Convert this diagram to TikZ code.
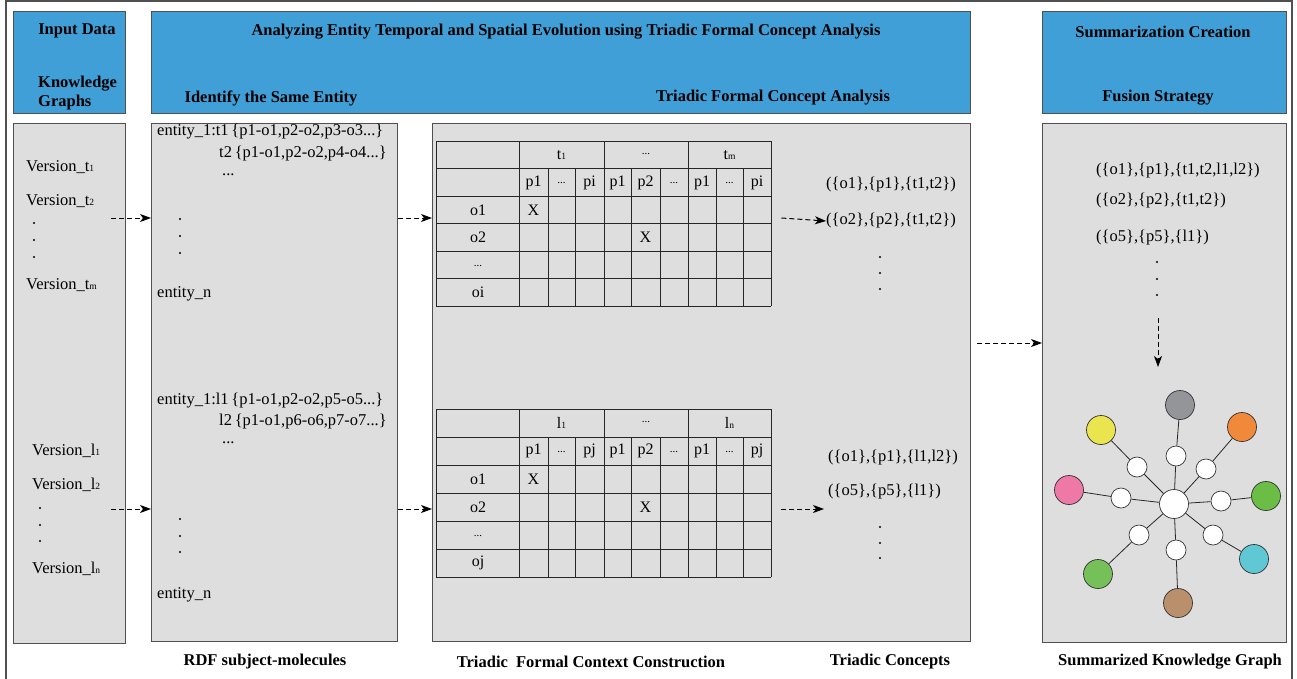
\documentclass[tikz,border=0pt]{standalone}
\usepackage{fontspec}
\setmainfont{Liberation Serif}
\usetikzlibrary{arrows.meta, positioning}

\definecolor{hdrblue}{HTML}{419FD8}
\definecolor{panelgray}{HTML}{DEDEDE}
\definecolor{framegray}{HTML}{505050}
\definecolor{kgray}{HTML}{939598}
\definecolor{korange}{HTML}{F08A3A}
\definecolor{kyellow}{HTML}{EAE54E}
\definecolor{kpink}{HTML}{EE78A6}
\definecolor{kgreen}{HTML}{6CBD45}
\definecolor{kgreenb}{HTML}{76C05A}
\definecolor{kcyan}{HTML}{60C8D5}
\definecolor{kbrown}{HTML}{B98F6C}

\newcommand{\sm}[1]{{\fontsize{9.5}{9.5}\selectfont #1}}

\tikzset{
  header/.style={draw=framegray, fill=hdrblue, line width=1pt, anchor=north west, inner sep=0pt},
  panel/.style={draw=framegray, fill=panelgray, line width=1pt, anchor=north west, inner sep=0pt},
  title/.style={font=\bfseries\fontsize{16.5}{19}\selectfont, inner sep=0pt},
  body/.style={font=\fontsize{16.5}{19}\selectfont, inner sep=0pt, anchor=west},
  cell/.style={font=\fontsize{16}{19}\selectfont, inner sep=0pt},
  small/.style={font=\fontsize{11}{12}\selectfont, inner sep=0pt},
  concept/.style={font=\fontsize{16.5}{19}\selectfont, inner sep=0pt, anchor=west},
  vdot/.style={circle, fill=black, inner sep=0pt, minimum size=2.4pt},
  grid/.style={draw=black!85, line width=0.8pt},
  flow/.style={dash pattern=on 5pt off 3pt, line width=1pt, -{Stealth[length=11pt, width=8pt, inset=3pt]}},
  hub/.style={circle, draw=black!80, fill=white, minimum size=29pt, inner sep=0pt, line width=0.7pt},
  link/.style={circle, draw=black!80, fill=white, minimum size=20pt, inner sep=0pt, line width=0.7pt},
  leaf/.style={circle, draw=black!80, minimum size=29pt, inner sep=0pt, line width=0.7pt},
}

\begin{document}
\begin{tikzpicture}[x=1pt, y=-1pt]
		\useasboundingbox (0,0) rectangle (1297,678);
		\draw[framegray, line width=2pt] (6,680) -- (6,1) -- (1292,1) -- (1292,680);
		
		% headers
		\node[header, minimum width=112pt, minimum height=102pt] (inhdr) at (13,11) {};
		\node[header, minimum width=819pt, minimum height=102pt] (anhdr) at (151,11) {};
		\node[header, minimum width=244pt, minimum height=102pt] (sumhdr) at (1042,11) {};
		\node[title] (intitle) at (77,31) {Input Data};
		\node[title, align=left, anchor=west] (kgtitle) at (38,93) {Knowledge\\Graphs};
		\node[title] (antitle) at (566,32) {Analyzing Entity Temporal and Spatial Evolution using Triadic Formal Concept Analysis};
		\node[title] (idtitle) at (271,98) {Identify the Same Entity};
		\node[title] (tftitle) at (773,98) {Triadic Formal Concept Analysis};
		\node[title] (sumtitle) at (1163,32) {Summarization Creation};
		\node[title] (fustitle) at (1158,98) {Fusion Strategy};
		
		% panels
		\node[panel, minimum width=112pt, minimum height=520pt] (inpanel) at (13,123) {};
		\node[panel, minimum width=246pt, minimum height=518pt] (rdfpanel) at (151,123) {};
		\node[panel, minimum width=538pt, minimum height=518pt] (tcpanel) at (432,123) {};
		\node[panel, minimum width=244pt, minimum height=519pt] (skgpanel) at (1042,123) {};
		
		% input versions
		\node[body] (vt1) at (26,167) {Version\_t\sm{1}};
		\node[body] (vt2) at (26,201) {Version\_t\sm{2}};
		\node[vdot] at (34,223) {};
		\node[vdot] at (34,240) {};
		\node[vdot] at (34,257) {};
		\node[body] (vtm) at (26,285) {Version\_t\sm{m}};
		\node[body] (vl1) at (32,451) {Version\_l\sm{1}};
		\node[body] (vl2) at (32,485) {Version\_l\sm{2}};
		\node[vdot] at (40,508) {};
		\node[vdot] at (40,525) {};
		\node[vdot] at (40,541) {};
		\node[body] (vln) at (32,569) {Version\_l\sm{n}};
		
		% subject molecules
		\node[body] (et1) at (157,132) {entity\_1:t1\,\{p1-o1,p2-o2,p3-o3...\}};
		\node[body] (et2) at (219,154) {t2\,\{p1-o1,p2-o2,p4-o4...\}};
		\node[body] (etx) at (222,175) {...};
		\node[vdot] at (180,219) {};
		\node[vdot] at (180,236) {};
		\node[vdot] at (180,253) {};
		\node[body] (etn) at (157,294) {entity\_n};
		\node[body] (el1) at (157,401) {entity\_1:l1\,\{p1-o1,p2-o2,p5-o5...\}};
		\node[body] (el2) at (219,422) {l2\,\{p1-o1,p6-o6,p7-o7...\}};
		\node[body] (elx) at (222,443) {...};
		\node[vdot] at (180,519) {};
		\node[vdot] at (180,536) {};
		\node[vdot] at (180,552) {};
		\node[body] (eln) at (157,595) {entity\_n};
		
		% triadic context over time
		\node[minimum width=335pt, minimum height=165pt, inner sep=0pt, anchor=north west] (ctxt) at (436,141) {};
		\foreach \r in {0,...,6} \draw[grid] (436,{141+27.5*\r}) -- (771,{141+27.5*\r});
		\foreach \c in {436,519,604,688,771} \draw[grid] (\c,141) -- (\c,306);
		\foreach \c in {548,575,631,660,716,743} \draw[grid] (\c,168.5) -- (\c,306);
		\node[cell] (tg1) at (561.5,155) {t\sm{1}};
		\node[small] (tg2) at (646,154) {...};
		\node[cell] (tg3) at (729.5,155) {t\sm{m}};
		\node[cell] at (533.5,182.5) {p1};
		\node[small] at (561.5,183) {...};
		\node[cell] at (589.5,182.5) {pi};
		\node[cell] at (617.5,182.5) {p1};
		\node[cell] at (645.5,182.5) {p2};
		\node[small] at (674,183) {...};
		\node[cell] at (702,182.5) {p1};
		\node[small] at (729.5,183) {...};
		\node[cell] at (757,182.5) {pi};
		\node[cell] (to1) at (478,210) {o1};
		\node[cell] (to2) at (478,237.5) {o2};
		\node[small] (tox) at (478,265.5) {...};
		\node[cell] (toi) at (478,292.5) {oi};
		\node[cell] at (533.5,210) {X};
		\node[cell] at (645.5,237.5) {X};
		
		% triadic context over location
		\node[minimum width=335pt, minimum height=168pt, inner sep=0pt, anchor=north west] (ctxl) at (436,409) {};
		\foreach \r in {0,...,6} \draw[grid] (436,{409+28*\r}) -- (771,{409+28*\r});
		\foreach \c in {436,519,604,688,771} \draw[grid] (\c,409) -- (\c,577);
		\foreach \c in {548,575,631,660,716,743} \draw[grid] (\c,437) -- (\c,577);
		\node[cell] (lg1) at (561.5,423) {l\sm{1}};
		\node[small] (lg2) at (646,422) {...};
		\node[cell] (lg3) at (729.5,423) {l\sm{n}};
		\node[cell] at (533.5,451) {p1};
		\node[small] at (561.5,451.5) {...};
		\node[cell] at (589.5,451) {pj};
		\node[cell] at (617.5,451) {p1};
		\node[cell] at (645.5,451) {p2};
		\node[small] at (674,451.5) {...};
		\node[cell] at (702,451) {p1};
		\node[small] at (729.5,451.5) {...};
		\node[cell] at (757,451) {pj};
		\node[cell] (lo1) at (478,479) {o1};
		\node[cell] (lo2) at (478,507) {o2};
		\node[small] (lox) at (478,535.5) {...};
		\node[cell] (loj) at (478,563) {oj};
		\node[cell] at (533.5,479) {X};
		\node[cell] at (645.5,507) {X};
		
		% triadic concepts
		\node[concept] (ct1) at (826,185) {(\{o1\},\{p1\},\{t1,t2\})};
		\node[concept] (ct2) at (826,221) {(\{o2\},\{p2\},\{t1,t2\})};
		\node[vdot] at (880,257) {};
		\node[vdot] at (880,273) {};
		\node[vdot] at (880,289) {};
		\node[concept] (cl1) at (828,458) {(\{o1\},\{p1\},\{l1,l2\})};
		\node[concept] (cl2) at (828,492) {(\{o5\},\{p5\},\{l1\})};
		\node[vdot] at (880,527) {};
		\node[vdot] at (880,543) {};
		\node[vdot] at (880,558) {};
		
		% fused concepts
		\node[concept] (fc1) at (1096,171) {(\{o1\},\{p1\},\{t1,t2,l1,l2\})};
		\node[concept] (fc2) at (1096,201) {(\{o2\},\{p2\},\{t1,t2\})};
		\node[concept] (fc3) at (1096,238) {(\{o5\},\{p5\},\{l1\})};
		\node[vdot] at (1157,262) {};
		\node[vdot] at (1157,279) {};
		\node[vdot] at (1157,295) {};
		\coordinate (fuse) at (1158,318);
		\coordinate (fuseend) at (1158,367);
		
		% summarized graph
		\node[hub] (hub) at (1174,504) {};
		\node[link] (w1) at (1176,456) {};
		\node[link] (w2) at (1206,469) {};
		\node[link] (w3) at (1137,467) {};
		\node[link] (w4) at (1121,498) {};
		\node[link] (w5) at (1221,501) {};
		\node[link] (w6) at (1213,535) {};
		\node[link] (w7) at (1139,535) {};
		\node[link] (w8) at (1176,550) {};
		\node[leaf, fill=kgray] (gray) at (1180,405) {};
		\node[leaf, fill=korange] (orange) at (1242,427) {};
		\node[leaf, fill=kyellow] (yellow) at (1101,430) {};
		\node[leaf, fill=kpink] (pink) at (1069,490) {};
		\node[leaf, fill=kgreen] (green) at (1266,496) {};
		\node[leaf, fill=kcyan] (cyan) at (1254,559) {};
		\node[leaf, fill=kgreenb] (greenb) at (1098,574) {};
		\node[leaf, fill=kbrown] (brown) at (1178,603) {};
		\path[draw=black!85, line width=0.8pt]
		(hub) edge (w1) (w1) edge (gray)
		(hub) edge (w2) (w2) edge (orange)
		(hub) edge (w3) (w3) edge (yellow)
		(hub) edge (w4) (w4) edge (pink)
		(hub) edge (w5) (w5) edge (green)
		(hub) edge (w6) (w6) edge (cyan)
		(hub) edge (w7) (w7) edge (greenb)
		(hub) edge (w8) (w8) edge (brown);
		
		% bottom captions
		\node[title] (rdfcap) at (265,662) {RDF subject-molecules};
		\node[title] (ctxcap) at (591,662) {Triadic\ \ Formal Context Construction};
		\node[title] (concap) at (890,662) {Triadic Concepts};
		\node[title] (skgcap) at (1170,662) {Summarized Knowledge Graph};
		
		% arrows
		\coordinate (rowt) at (0,218);
		\coordinate (rowl) at (0,509);
		\coordinate (rowm) at (0,343);
		\draw[flow] ([xshift=-15pt]rowt -| inpanel.east) -- (rowt -| rdfpanel.west);
		\draw[flow] ([xshift=-15pt]rowl -| inpanel.east) -- (rowl -| rdfpanel.west);
		\draw[flow] (rowt -| rdfpanel.east) -- (rowt -| tcpanel.west);
		\draw[flow] (rowl -| rdfpanel.east) -- (rowl -| tcpanel.west);
		\draw[flow] ([xshift=10pt]rowt -| ctxt.east) -- (ct2.west);
		\draw[flow] ([xshift=10pt]rowl -| ctxl.east) -- ([xshift=-4pt]rowl -| cl2.west);
		\draw[flow] ([xshift=6pt]rowm -| tcpanel.east) -- (rowm -| skgpanel.west);
		\draw[flow] (fuse) -- (fuseend);
\end{tikzpicture}
\end{document}
